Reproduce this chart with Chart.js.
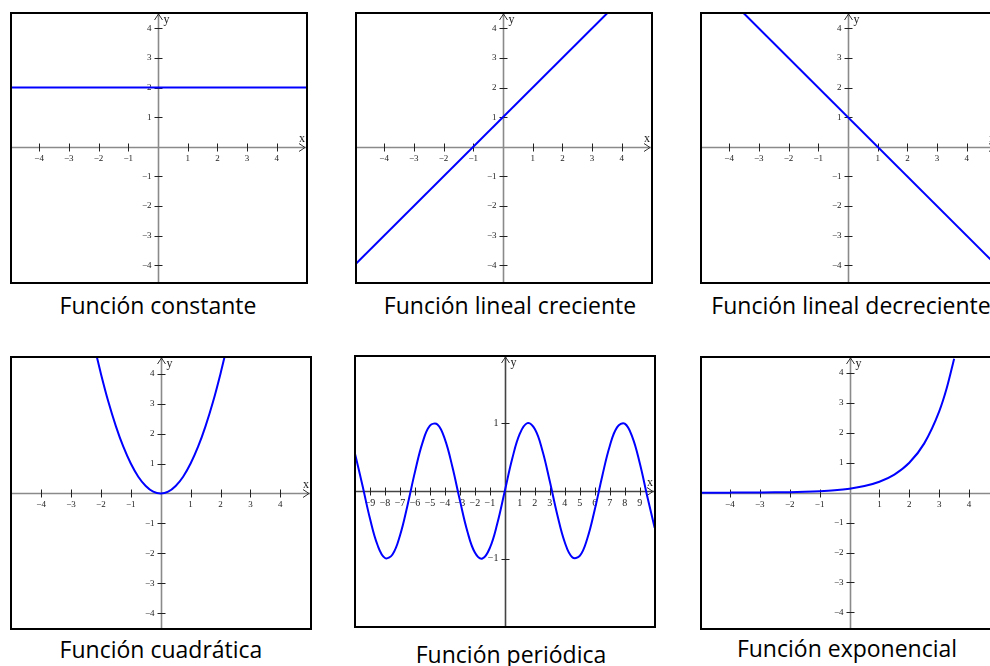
<!DOCTYPE html>
<html>
<head>
<meta charset="utf-8">
<script src="https://cdn.jsdelivr.net/npm/chart.js@4.4.1/dist/chart.umd.min.js"></script>
<style>
  html, body { margin: 0; padding: 0; background: #fff; }
  body { width: 990px; height: 666px; position: relative; overflow: hidden; }
  canvas { position: absolute; }
  .cap {
    position: absolute; width: 360px; text-align: center; white-space: nowrap;
    font-family: "Open Sans", sans-serif; font-size: 23px; line-height: 1; color: #000;
  }
</style>
</head>
<body>
<canvas id="c1" width="298" height="272" style="left:10px;top:12px"></canvas>
<canvas id="c2" width="298" height="272" style="left:355px;top:12px"></canvas>
<canvas id="c3" width="298" height="272" style="left:700px;top:12px"></canvas>
<canvas id="c4" width="302" height="274" style="left:10px;top:356px"></canvas>
<canvas id="c5" width="302" height="273" style="left:354px;top:355px"></canvas>
<canvas id="c6" width="302" height="274" style="left:700px;top:356px"></canvas>

<div class="cap" id="t1" style="left:-22px;top:294px"></div>
<div class="cap" id="t2" style="left:330px;top:294px"></div>
<div class="cap" id="t3" style="left:671px;top:294px"></div>
<div class="cap" id="t4" style="left:-19px;top:638px"></div>
<div class="cap" id="t5" style="left:331px;top:643px"></div>
<div class="cap" id="t6" style="left:667px;top:637px"></div>

<script>
// captions under each graph
const captions = ['Función constante', 'Función lineal creciente', 'Función lineal decreciente',
                  'Función cuadrática', 'Función periódica', 'Función exponencial'];

// tick labels
const unitTicks = [-4, -3, -2, -1, 1, 2, 3, 4];
const sineXTicks = [-9, -8, -7, -6, -5, -4, -3, -2, -1, 1, 2, 3, 4, 5, 6, 7, 8, 9];
const sineYTicks = [-1, 1];

// constant
const constX = [-5, 5.1];
const constY = [2, 2];

// increasing line
const incX = [-5, 3.55];
const incY = [-4, 4.55];

// decreasing line
const decX = [-3.55, 5.1];
const decY = [4.55, -4.1];

// parabola
const quadX = [-2.15, -2, -1.75, -1.5, -1.25, -1, -0.75, -0.5, -0.25, 0, 0.25, 0.5, 0.75, 1, 1.25, 1.5, 1.75, 2, 2.15];
const quadY = [4.62, 4, 3.06, 2.25, 1.56, 1, 0.56, 0.25, 0.06, 0, 0.06, 0.25, 0.56, 1, 1.56, 2.25, 3.06, 4, 4.62];

// periodic
const sineX = [-10, -9.5, -9, -8.5, -8, -7.5, -7, -6.5, -6, -5.5, -5, -4.5, -4, -3.5, -3, -2.5, -2, -1.5, -1, -0.5,
               0, 0.5, 1, 1.5, 2, 2.5, 3, 3.5, 4, 4.5, 5, 5.5, 6, 6.5, 7, 7.5, 8, 8.5, 9, 9.5, 10];
const sineY = [0.544, 0.075, -0.412, -0.798, -0.989, -0.938, -0.657, -0.215, 0.279, 0.706, 0.959, 0.978, 0.757, 0.351,
               -0.141, -0.598, -0.909, -0.997, -0.841, -0.479,
               0, 0.479, 0.841, 0.997, 0.909, 0.598, 0.141, -0.351, -0.757, -0.978, -0.959, -0.706, -0.279, 0.215,
               0.657, 0.938, 0.989, 0.798, 0.412, -0.075, -0.544];

// exponential
const expX = [-5, -4.5, -4, -3.5, -3, -2.5, -2, -1.5, -1, -0.5, 0, 0.5, 1, 1.5, 2, 2.5, 3, 3.25, 3.5];
const expY = [0.001, 0.0015, 0.0025, 0.004, 0.007, 0.011, 0.018, 0.03, 0.05, 0.082, 0.135, 0.223, 0.368, 0.607,
              1, 1.649, 2.718, 3.49, 4.48];

function fmt(v) {
    return v < 0 ? '\u2212' + Math.abs(v) : String(v);
}

// draws axes through the origin, ticks, labels and arrows
const axesCross = {
    id: 'axesCross',
    beforeDatasetsDraw(chart, args, opts) {
        const ctx = chart.ctx;
        const a = chart.chartArea;
        const x = chart.scales.x, y = chart.scales.y;
        const x0 = Math.round(x.getPixelForValue(0)) + 0.5;
        const y0 = Math.round(y.getPixelForValue(0)) + 0.5;
        ctx.save();

        // axis lines
        ctx.strokeStyle = opts.axisColor;
        ctx.lineWidth = 1.6;
        ctx.beginPath();
        ctx.moveTo(a.left, y0); ctx.lineTo(a.right - 2, y0);
        ctx.moveTo(x0, a.top + 2); ctx.lineTo(x0, a.bottom);
        ctx.stroke();

        // arrow heads
        ctx.lineWidth = 1;
        ctx.strokeStyle = '#333';
        ctx.beginPath();
        ctx.moveTo(a.right - 9, y0 - 4); ctx.lineTo(a.right - 3, y0); ctx.lineTo(a.right - 9, y0 + 4);
        ctx.moveTo(x0 - 4, a.top + 8); ctx.lineTo(x0, a.top + 2); ctx.lineTo(x0 + 4, a.top + 8);
        ctx.stroke();

        // ticks and labels
        ctx.fillStyle = '#222';
        ctx.font = opts.font;
        ctx.strokeStyle = '#222';
        ctx.beginPath();
        opts.xTicks.forEach(v => {
            const px = Math.round(x.getPixelForValue(v)) + 0.5;
            ctx.moveTo(px, y0 - 4); ctx.lineTo(px, y0 + 4);
        });
        opts.yTicks.forEach(v => {
            const py = Math.round(y.getPixelForValue(v)) + 0.5;
            ctx.moveTo(x0 - 4, py); ctx.lineTo(x0 + 4, py);
        });
        ctx.stroke();

        ctx.textAlign = 'center';
        ctx.textBaseline = 'top';
        opts.xTicks.forEach(v => {
            ctx.fillText(fmt(v), x.getPixelForValue(v), y0 + 7);
        });
        ctx.textAlign = 'right';
        ctx.textBaseline = 'middle';
        opts.yTicks.forEach(v => {
            ctx.fillText(fmt(v), x0 - 7, y.getPixelForValue(v));
        });

        // axis names
        ctx.font = '12px "Liberation Serif", serif';
        ctx.textAlign = 'left';
        ctx.textBaseline = 'alphabetic';
        ctx.fillText('x', a.right - 9, y0 - 6);
        ctx.fillText('y', x0 + 5, a.top + 11);
        ctx.restore();
    },
    afterDraw(chart) {
        const ctx = chart.ctx;
        const a = chart.chartArea;
        ctx.save();
        ctx.strokeStyle = '#000';
        ctx.lineWidth = 2;
        ctx.strokeRect(a.left + 1, a.top + 1, a.right - a.left - 2, a.bottom - a.top - 2);
        ctx.restore();
    }
};

function makePanel(canvasId, xs, ys, xRange, yRange, tickOpts, curveOpts) {
    const ctx = document.getElementById(canvasId).getContext('2d');
    const points = xs.map((v, i) => ({ x: v, y: ys[i] }));
    return new Chart(ctx, {
        type: 'scatter',
        data: {
            datasets: [Object.assign({
                data: points,
                showLine: true,
                borderColor: '#0000ff',
                borderWidth: 2,
                pointRadius: 0,
                pointHoverRadius: 0,
                fill: false
            }, curveOpts || {})]
        },
        options: {
            responsive: false,
            animation: false,
            events: [],
            layout: { padding: 0 },
            plugins: {
                legend: { display: false },
                tooltip: { enabled: false },
                axesCross: tickOpts
            },
            scales: {
                x: { type: 'linear', min: xRange[0], max: xRange[1], display: false },
                y: { type: 'linear', min: yRange[0], max: yRange[1], display: false }
            }
        },
        plugins: [axesCross]
    });
}

const unitOpts = { xTicks: unitTicks, yTicks: unitTicks, font: '9px "Liberation Serif", serif', axisColor: '#8a8a8a' };
const sineOpts = { xTicks: sineXTicks, yTicks: sineYTicks, font: '10px "Liberation Serif", serif', axisColor: '#444' };

makePanel('c1', constX, constY, [-4.98, 5.05], [-4.63, 4.55], unitOpts);
makePanel('c2', incX, incY, [-4.98, 5.05], [-4.63, 4.55], unitOpts);
makePanel('c3', decX, decY, [-4.98, 5.05], [-4.63, 4.55], unitOpts);
makePanel('c4', quadX, quadY, [-5.04, 5.06], [-4.56, 4.59], unitOpts, { cubicInterpolationMode: 'monotone' });
makePanel('c5', sineX, sineY, [-10.07, 10.09], [-2.02, 2.0], sineOpts, { tension: 0.4 });
makePanel('c6', expX, expY, [-5.0, 5.1], [-4.59, 4.57], unitOpts, { cubicInterpolationMode: 'monotone' });

captions.forEach((t, i) => {
    document.getElementById('t' + (i + 1)).textContent = t;
});
</script>
</body>
</html>
